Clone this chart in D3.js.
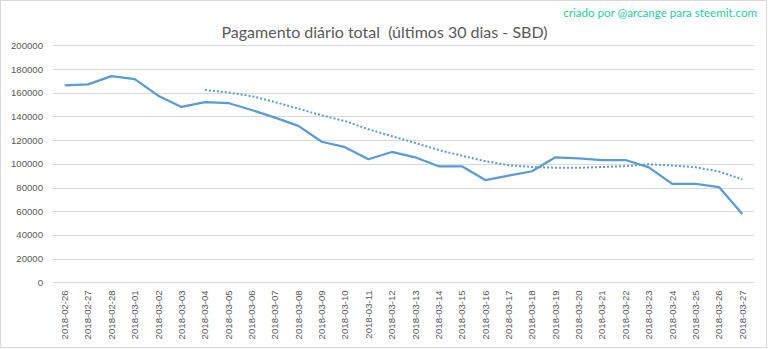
<!DOCTYPE html>
<html><head><meta charset="utf-8">
<script src="https://cdn.jsdelivr.net/npm/d3@7"></script>
<style>
html,body{margin:0;padding:0;background:#fff;}
svg{display:block;}
text{font-family:"Liberation Sans",Arial,sans-serif;}
</style></head>
<body>
<svg id="chart" width="768" height="349"></svg>
<script>
const categories = ["2018-02-26","2018-02-27","2018-02-28","2018-03-01","2018-03-02","2018-03-03","2018-03-04","2018-03-05","2018-03-06","2018-03-07","2018-03-08","2018-03-09","2018-03-10","2018-03-11","2018-03-12","2018-03-13","2018-03-14","2018-03-15","2018-03-16","2018-03-17","2018-03-18","2018-03-19","2018-03-20","2018-03-21","2018-03-22","2018-03-23","2018-03-24","2018-03-25","2018-03-26","2018-03-27"];
const payout = [166200,167000,174000,171500,157500,148000,152000,151300,145400,139000,132000,118600,114000,103800,110000,105500,97900,97900,86300,90000,93700,105500,104600,103200,103200,97000,83000,83000,80400,57600];
// 7-day moving-average trend line (dotted); starts at 2018-03-04
const trend = [null,null,null,null,null,null,162300,160200,157100,152100,146500,140900,136000,129200,123300,117600,111700,106800,102200,98800,97300,96700,96600,97300,98100,99600,98600,97100,93500,86800];
const yTicks = [0,20000,40000,60000,80000,100000,120000,140000,160000,180000,200000];
const titleText = "Pagamento diário total  (últimos 30 dias - SBD)";
const creditText = "criado por @arcange para steemit.com";

(function(){
const svg = d3.select("#chart");
const W = 768, H = 349;
const mLeft = 53, mRight = 754, mTop = 45.3, mBottom = 282.3;

svg.append("rect").attr("x",0.5).attr("y",0.5).attr("width",W-2).attr("height",H-2)
  .attr("fill","#fff").attr("stroke","#d9d9d9");

const x = d3.scaleBand().domain(categories).range([mLeft,mRight]);
const y = d3.scaleLinear().domain([0,200000]).range([mBottom,mTop]);

// gridlines
svg.append("g").selectAll("line").data(yTicks).join("line")
  .attr("x1",mLeft).attr("x2",mRight)
  .attr("y1",d=>Math.round(y(d))+0.5).attr("y2",d=>Math.round(y(d))+0.5)
  .attr("stroke","#d9d9d9").attr("stroke-width",1);

// y axis labels
const yAxis = d3.axisLeft(y).tickValues(yTicks).tickSize(0).tickPadding(0).tickFormat(d3.format("d"));
const gy = svg.append("g").attr("transform",`translate(${43},0)`).call(yAxis);
gy.select(".domain").remove();
gy.selectAll("text").attr("fill","#595959").style("font-size","9.6px").style("font-family","'Liberation Sans',Arial,sans-serif");

// x axis labels
const xAxis = d3.axisBottom(x).tickSize(0).tickPadding(0);
const gx = svg.append("g").attr("transform",`translate(0,${mBottom})`).call(xAxis);
gx.select(".domain").remove();
gx.selectAll("text")
  .attr("fill","#595959").style("font-size","9.6px").style("font-family","'Liberation Sans',Arial,sans-serif")
  .attr("text-anchor","end").attr("dy","0.35em")
  .attr("transform","translate(0,8) rotate(-90)").attr("x",0).attr("y",0);

const cx = d => x(d) + x.bandwidth()/2;

// trend (dotted)
const trendLine = d3.line().defined(d=>d[1]!=null).x(d=>cx(d[0])).y(d=>y(d[1]));
svg.append("path").datum(categories.map((c,i)=>[c,trend[i]]))
  .attr("d",trendLine).attr("fill","none").attr("stroke","#5b9bd5")
  .attr("stroke-width",2).attr("stroke-dasharray","2,2");

// main line
const line = d3.line().x(d=>cx(d[0])).y(d=>y(d[1]));
svg.append("path").datum(categories.map((c,i)=>[c,payout[i]]))
  .attr("d",line).attr("fill","none").attr("stroke","#5b9bd5")
  .attr("stroke-width",2.25).attr("stroke-linejoin","round");

// title
svg.append("text").attr("x",384.5).attr("y",38).attr("text-anchor","middle")
  .style("white-space","pre").attr("xml:space","preserve")
  .style("font-family","Lato,'Open Sans',sans-serif").style("font-size","16px")
  .attr("fill","#595959").text(titleText);

// credit
svg.append("text").attr("x",757).attr("y",17).attr("text-anchor","end")
  .style("font-family","Lato,'Open Sans',sans-serif").style("font-size","11.6px")
  .attr("fill","#22d0a0").text(creditText);
})();
</script>
</body></html>
